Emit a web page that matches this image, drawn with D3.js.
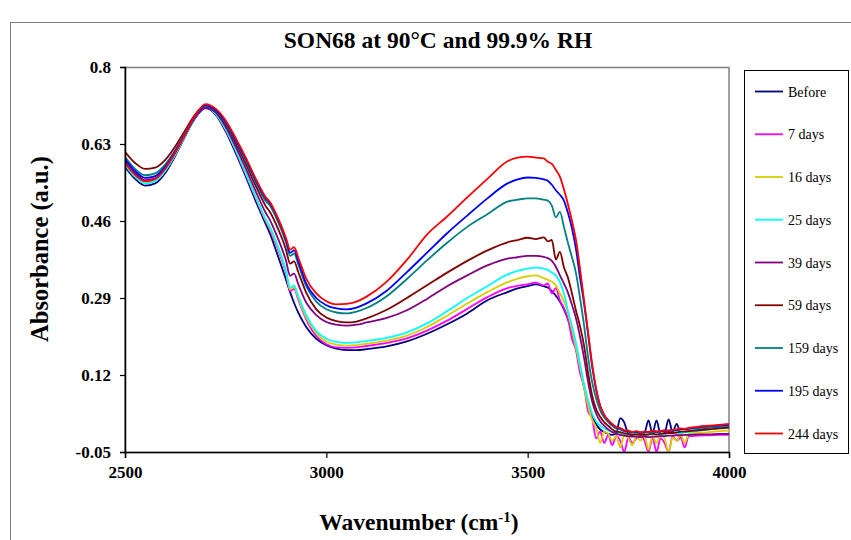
<!DOCTYPE html>
<html>
<head>
<meta charset="UTF-8">
<script src="https://d3js.org/d3.v7.min.js"></script>
<style>
  body { margin: 0; background: #fff; }
  text { font-family: "Liberation Serif", "Times New Roman", serif; }
</style>
</head>
<body>
<script>
// wavenumber grid (cm-1) shared by every series
var wavenumber = [2500, 2525, 2550, 2575, 2600, 2625, 2650, 2675, 2700, 2725, 2750, 2775, 2800, 2825, 2850, 2860, 2875,
  2900, 2910, 2920, 2930, 2950, 2975, 3000, 3025, 3050, 3075, 3100, 3150, 3200, 3250, 3300, 3350, 3400, 3450, 3475, 3500,
  3520, 3540, 3550, 3560, 3570, 3580, 3590, 3600, 3610, 3620, 3630, 3640, 3650, 3660, 3670, 3680, 3690,
  3700, 3710, 3720, 3730, 3740, 3750, 3760, 3770, 3780, 3790, 3800, 3810, 3820, 3830, 3840, 3850, 3860, 3870, 3880, 3890, 3900,
  3925, 3950, 3975, 4000];

var seriesNames = ["Before", "7 days", "16 days", "25 days", "39 days", "59 days", "159 days", "195 days", "244 days"];
var seriesColors = ["#000080", "#ff00ff", "#dccc00", "#00ffff", "#800080", "#800000", "#008080", "#0000ff", "#ff0000"];

var before = [.580, .553, .538, .543, .566, .604, .648, .688, .709, .695, .658, .610, .558, .503, .452, .432, .395,
  .330, .303, .279, .258, .226, .200, .186, .178, .175, .175, .177, .183, .194, .211, .232, .256, .285, .303, .311, .316,
  .320, .316, .313, .305, .295, .282, .265, .243, .212, .178, .135, .094, .058, .030, .012, .000, -.006,
  -.010, -.012, -.008, .025, .015, -.010, -.012, -.006, -.011, -.008, .020, -.009, .020, -.010, -.008, .022, -.006, .012, -.007, -.005, -.004,
  -.001, .002, .004, .005];
var days7 = [.587, .560, .546, .550, .572, .608, .651, .690, .711, .697, .662, .615, .563, .510, .459, .441, .408,
  .344, .305, .310, .287, .243, .206, .188, .181, .180, .181, .184, .191, .201, .218, .240, .266, .292, .312, .317, .320,
  .324, .318, .322, .300, .312, .285, .268, .245, .200, .175, .125, .095, .040, .025, -.020, -.005, -.030,
  -.012, -.035, -.015, -.025, -.050, -.018, -.030, -.020, -.015, -.025, -.050, -.018, -.050, -.020, -.030, -.050, -.015, -.025, -.018, -.040, -.015,
  -.014, -.013, -.012, -.012];
var days16 = [.585, .558, .544, .548, .571, .607, .650, .690, .712, .697, .663, .617, .565, .512, .461, .444, .412,
  .347, .309, .314, .291, .247, .212, .194, .187, .185, .186, .189, .196, .207, .226, .251, .278, .303, .325, .333, .338,
  .340, .334, .330, .326, .318, .300, .283, .258, .218, .180, .138, .092, .052, .020, .004, -.030, -.005,
  -.010, -.025, -.015, -.040, -.012, -.020, -.035, -.015, -.025, -.012, -.045, -.015, -.030, -.012, -.020, -.050, -.018, -.025, -.012, -.030, -.010,
  -.008, -.006, -.004, -.003];
var days25 = [.585, .558, .543, .548, .571, .607, .650, .690, .712, .697, .663, .617, .566, .513, .463, .447, .415,
  .350, .313, .318, .295, .252, .217, .200, .193, .191, .192, .195, .202, .214, .234, .261, .290, .316, .342, .350, .355,
  .357, .355, .352, .346, .340, .325, .300, .262, .228, .190, .145, .100, .065, .035, .018, .008, .002,
  -.002, -.006, -.004, -.010, -.008, -.011, -.009, -.012, -.010, -.011, -.013, -.009, -.012, -.010, -.011, -.008, -.009, -.007, -.008, -.006, -.006,
  -.003, .000, .002, .004];
var days39 = [.592, .565, .550, .554, .576, .611, .652, .690, .710, .700, .668, .624, .576, .525, .477, .462, .432,
  .372, .339, .344, .321, .280, .252, .237, .231, .229, .231, .236, .246, .263, .288, .316, .340, .362, .377, .380, .383,
  .383, .381, .378, .372, .359, .340, .322, .302, .275, .245, .205, .158, .105, .062, .035, .018, .008,
  .000, -.006, -.010, -.012, -.014, -.015, -.016, -.016, -.017, -.016, -.017, -.016, -.016, -.015, -.015, -.014, -.014, -.013, -.013, -.012, -.012,
  -.011, -.011, -.010, -.010];
var days59 = [.613, .588, .575, .578, .595, .625, .661, .696, .714, .703, .674, .632, .586, .537, .492, .480, .453,
  .396, .366, .371, .348, .302, .265, .247, .239, .236, .238, .245, .264, .290, .318, .346, .372, .395, .413, .418, .423,
  .420, .424, .415, .418, .375, .392, .358, .335, .300, .262, .228, .185, .125, .075, .045, .028, .016,
  .008, .000, -.005, -.006, -.009, -.010, -.012, -.011, -.012, -.012, -.011, -.010, -.011, -.010, -.009, -.008, -.008, -.007, -.005, -.005, -.004,
  -.002, .000, .002, .004];
var days159 = [.602, .575, .561, .565, .585, .617, .656, .693, .714, .704, .677, .637, .593, .545, .503, .494, .468,
  .412, .383, .388, .365, .316, .282, .265, .258, .256, .260, .268, .294, .332, .373, .412, .447, .475, .503, .507, .510,
  .510, .507, .505, .494, .468, .480, .447, .412, .380, .345, .290, .230, .160, .105, .068, .042, .026,
  .016, .008, .002, .000, -.004, -.005, -.007, -.006, -.008, -.007, -.007, -.006, -.006, -.005, -.004, -.004, -.003, -.002, .000, .000, .001,
  .003, .005, .007, .008];
var days195 = [.597, .570, .555, .559, .580, .614, .654, .693, .716, .705, .679, .640, .597, .550, .509, .499, .474,
  .418, .390, .395, .372, .322, .290, .274, .267, .265, .269, .278, .306, .347, .390, .433, .472, .510, .543, .552, .556,
  .555, .552, .549, .540, .528, .518, .505, .478, .444, .398, .335, .278, .210, .140, .088, .052, .032,
  .020, .011, .004, .002, -.003, -.004, -.006, -.005, -.007, -.006, -.006, -.004, -.005, -.004, -.003, -.003, -.002, -.001, .001, .001, .002,
  .005, .007, .009, .010];
var days244 = [.588, .562, .548, .553, .576, .612, .654, .694, .718, .708, .682, .643, .600, .553, .512, .502, .476,
  .422, .397, .402, .380, .333, .300, .283, .276, .277, .282, .293, .326, .374, .430, .470, .512, .553, .592, .600, .602,
  .600, .598, .591, .586, .573, .558, .530, .497, .460, .418, .355, .285, .215, .145, .090, .052, .032,
  .020, .012, .005, .003, -.002, -.003, -.006, -.004, -.007, -.005, -.006, -.003, -.005, -.004, -.002, -.003, -.001, .000, .002, .001, .003,
  .006, .008, .010, .012];

var seriesValues = [before, days7, days16, days25, days39, days59, days159, days195, days244];

var xTicks = [2500, 3000, 3500, 4000];
var yTicks = [-0.05, 0.12, 0.29, 0.46, 0.63, 0.8];
var yTickLabels = ["-0.05", "0.12", "0.29", "0.46", "0.63", "0.8"];

var width = 851, height = 540;
var plot = { left: 125, top: 67, right: 729, bottom: 452 };

var svg = d3.select("body").append("svg")
  .attr("width", width)
  .attr("height", height);

svg.append("rect").attr("width", width).attr("height", height).attr("fill", "#fff");

// outer chart border
svg.append("rect")
  .attr("x", 10.5).attr("y", 22.5)
  .attr("width", 860).attr("height", 540)
  .attr("fill", "none").attr("stroke", "#808080").attr("stroke-width", 1);

svg.append("text")
  .attr("x", 438).attr("y", 48)
  .attr("text-anchor", "middle")
  .attr("font-weight", "bold").attr("font-size", 23.5)
  .text("SON68 at 90°C and 99.9% RH");

var x = d3.scaleLinear().domain([2500, 4000]).range([plot.left, plot.right]);
var y = d3.scaleLinear().domain([-0.05, 0.8]).range([plot.bottom, plot.top]);

// plot area frame
svg.append("rect")
  .attr("x", plot.left).attr("y", plot.top + 0.5)
  .attr("width", plot.right - plot.left).attr("height", plot.bottom - plot.top)
  .attr("fill", "none").attr("stroke", "#808080").attr("stroke-width", 1.5);

svg.append("clipPath").attr("id", "clip")
  .append("rect")
  .attr("x", plot.left).attr("y", plot.top)
  .attr("width", plot.right - plot.left).attr("height", plot.bottom - plot.top);

var line = d3.line()
  .x(function(d, i) { return x(wavenumber[i]); })
  .y(function(d) { return y(d); })
  .curve(d3.curveMonotoneX);

svg.append("g").attr("clip-path", "url(#clip)")
  .selectAll("path")
  .data(seriesValues)
  .enter().append("path")
  .attr("d", line)
  .attr("fill", "none")
  .attr("stroke", function(d, i) { return seriesColors[i]; })
  .attr("stroke-width", 1.8)
  .attr("stroke-linejoin", "round");

// axes
var xAxis = svg.append("g")
  .attr("transform", "translate(0," + plot.bottom + ")")
  .call(d3.axisBottom(x).tickValues(xTicks).tickFormat(d3.format("d")).tickSize(6).tickPadding(8));
var yAxis = svg.append("g")
  .attr("transform", "translate(" + plot.left + ",0)")
  .call(d3.axisLeft(y).tickValues(yTicks).tickFormat(function(d, i) { return yTickLabels[i]; })
    .tickSize(5).tickPadding(9));

[xAxis, yAxis].forEach(function(g) {
  g.select(".domain").attr("stroke", "#000").attr("stroke-width", 1.5);
  g.selectAll(".tick line").attr("stroke", "#000").attr("stroke-width", 1.2);
  g.selectAll(".tick text")
    .attr("font-family", "Liberation Serif, serif")
    .attr("font-weight", "bold").attr("font-size", 17).attr("fill", "#000");
});

// axis titles
svg.append("text")
  .attr("transform", "translate(48,249) rotate(-90)")
  .attr("text-anchor", "middle")
  .attr("font-weight", "bold").attr("font-size", 24.5)
  .text("Absorbance (a.u.)");

var xt = svg.append("text")
  .attr("x", 419).attr("y", 530)
  .attr("text-anchor", "middle")
  .attr("font-weight", "bold").attr("font-size", 23.5);
xt.append("tspan").text("Wavenumber (cm");
xt.append("tspan").attr("dy", -8).attr("font-size", 15).text("-1");
xt.append("tspan").attr("dy", 8).text(")");

// legend
var legend = svg.append("g");
legend.append("rect")
  .attr("x", 744.5).attr("y", 70.5)
  .attr("width", 104).attr("height", 383)
  .attr("fill", "#fff").attr("stroke", "#000").attr("stroke-width", 1);

var items = legend.selectAll("g.item")
  .data(seriesNames)
  .enter().append("g")
  .attr("class", "item")
  .attr("transform", function(d, i) { return "translate(0," + (91.5 + i * 42.75) + ")"; });
items.append("line")
  .attr("x1", 755).attr("x2", 783)
  .attr("stroke", function(d, i) { return seriesColors[i]; })
  .attr("stroke-width", 1.8);
items.append("text")
  .attr("x", 788).attr("y", 5)
  .attr("font-size", 14)
  .text(function(d) { return d; });
</script>
</body>
</html>
